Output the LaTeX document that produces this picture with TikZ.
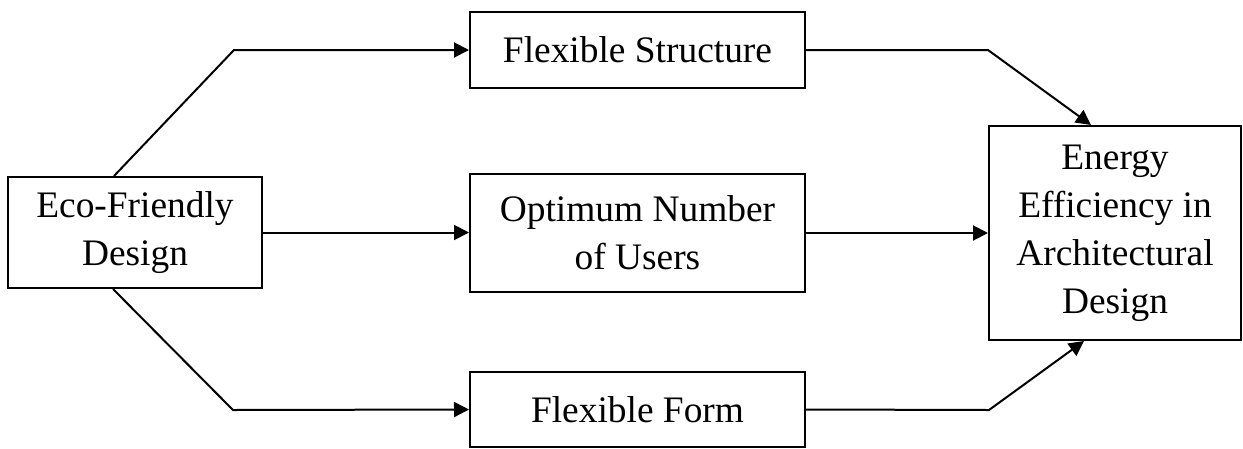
\documentclass[tikz,border=0pt]{standalone}
\usepackage{fontspec}
\setmainfont{Liberation Serif}
\usetikzlibrary{arrows.meta}
\begin{document}
\begin{tikzpicture}[x=1pt,y=-1pt,
  box/.style={draw=black, line width=2pt, fill=white, align=center, inner sep=0pt,
    font=\fontsize{37.4}{48}\selectfont},
  arr/.style={line width=2pt, -{Triangle[length=15pt,width=15pt]}}]
\useasboundingbox (0,0) rectangle (1243,448);
\node[box, minimum width=254pt, minimum height=111pt] (eco) at (135,232.5) {Eco-Friendly\\Design};
\node[box, minimum width=335pt, minimum height=76pt] (fs) at (637.5,50) {Flexible Structure};
\node[box, minimum width=335pt, minimum height=118pt] (opt) at (637.5,233) {Optimum Number\\of Users};
\node[box, minimum width=335pt, minimum height=75pt] (ff) at (637.5,409.5) {Flexible Form};
\node[box, minimum width=252pt, minimum height=214pt] (en) at (1115,233) {Energy\\Efficiency in\\Architectural\\Design};
\coordinate (b1) at (234,50);
\coordinate (b2) at (233,410);
\coordinate (b3) at (988,50);
\coordinate (b4) at (989,410);
\draw[arr] ([xshift=107pt]eco.north west) -- (b1) -- (fs.west);
\draw[arr] ([xshift=106pt]eco.south west) -- (b2) -- (ff.west);
\draw[arr] (eco.east) -- (eco.east -| opt.west);
\draw[arr] (fs.east) -- (b3) -- ([xshift=103pt]en.north west);
\draw[arr] (ff.east) -- (b4) -- ([xshift=96pt]en.south west);
\draw[arr] (opt.east) -- (opt.east -| en.west);
\end{tikzpicture}
\end{document}
